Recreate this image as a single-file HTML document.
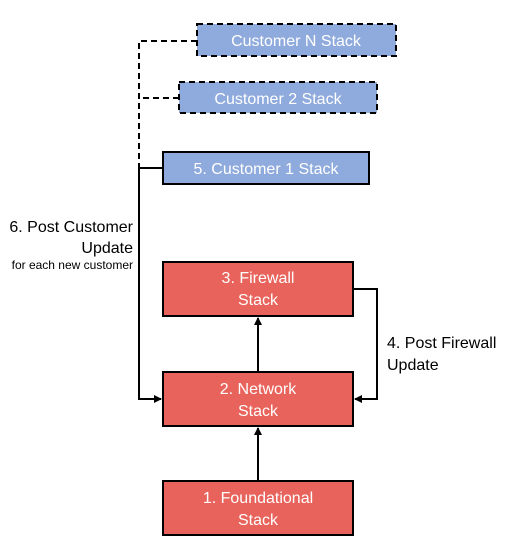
<!DOCTYPE html>
<html><head><style>
body{margin:0;background:#fff;}
svg{display:block;font-family:"Liberation Sans",sans-serif;}
</style></head><body>
<svg width="514" height="557" viewBox="0 0 514 557">
<defs><marker id="a" markerWidth="8" markerHeight="8" refX="7" refY="4" orient="auto" markerUnits="userSpaceOnUse"><path d="M0,0 L8,4 L0,8 z" fill="#000"/></marker></defs>
<g fill="#8FAADC" stroke="#000" stroke-width="2">
<rect x="197" y="24" width="199" height="32" stroke-dasharray="6,4"/>
<rect x="179" y="82" width="198" height="31" stroke-dasharray="6,4"/>
<rect x="163" y="152" width="206" height="32"/>
</g>
<g fill="#E8635B" stroke="#000" stroke-width="2">
<rect x="163" y="262" width="190" height="54"/>
<rect x="163" y="372" width="190" height="54"/>
<rect x="163" y="481" width="190" height="54"/>
</g>
<g fill="none" stroke="#000" stroke-width="2">
<path d="M197,41 H139 V168" stroke-dasharray="6,4"/>
<path d="M179,98 H139" stroke-dasharray="6,4"/>
<path d="M163,168 H139 V399 H161" marker-end="url(#a)"/>
<path d="M353,289 H377 V399 H355" marker-end="url(#a)"/>
<path d="M258,372 V318" marker-end="url(#a)"/>
<path d="M258,481 V428" marker-end="url(#a)"/>
</g>
<g fill="#fff" font-size="16" text-anchor="middle">
<text x="296" y="46">Customer N Stack</text>
<text x="278" y="104">Customer 2 Stack</text>
<text x="266" y="174">5. Customer 1 Stack</text>
<text x="258" y="283">3. Firewall</text><text x="258" y="305">Stack</text>
<text x="258" y="394">2. Network</text><text x="258" y="416">Stack</text>
<text x="258" y="503">1. Foundational</text><text x="258" y="525">Stack</text>
</g>
<g fill="#000" font-size="16">
<text x="133" y="232" text-anchor="end">6. Post Customer</text>
<text x="133" y="253" text-anchor="end">Update</text>
<text x="133" y="269" text-anchor="end" font-size="12">for each new customer</text>
<text x="387" y="348">4. Post Firewall</text>
<text x="387" y="370">Update</text>
</g>
</svg>
</body></html>
